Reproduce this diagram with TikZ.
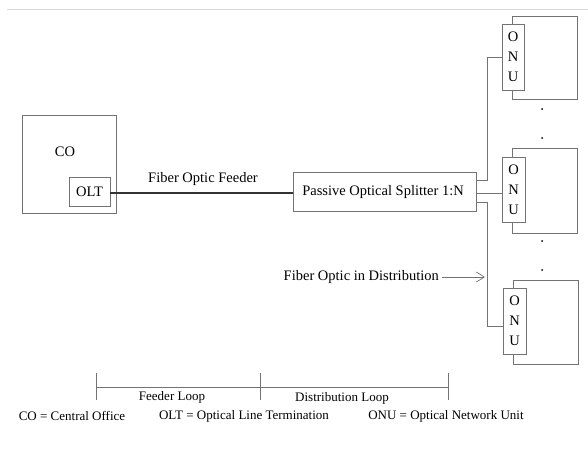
\documentclass[tikz,border=0pt]{standalone}
\usepackage{fontspec}
\setmainfont{Liberation Serif}
\usetikzlibrary{arrows.meta}
\definecolor{boxgray}{gray}{0.45}
\definecolor{toplinegray}{gray}{0.85}
\begin{document}
\begin{tikzpicture}[x=1pt,y=-1pt,
  box/.style={draw=boxgray, line width=0.8pt},
  wire/.style={draw=boxgray, line width=0.8pt},
  lbl/.style={font=\fontsize{14.5}{17}\selectfont, inner sep=0pt},
  small/.style={font=\fontsize{13}{15}\selectfont, inner sep=0pt},
  onuletter/.style={font=\fontsize{14.5}{17}\selectfont, inner sep=0pt}]
\useasboundingbox (0,0) rectangle (588,452);
\fill[white] (0,0) rectangle (588,452);
\draw[toplinegray, line width=0.6pt] (7,9) -- (588,9);
% CO
\draw[box] (22,115) rectangle (116,213);
\node[lbl] (co) at (65,152) {CO};
\draw[box, fill=white] (69,177) rectangle (110,206);
\node[lbl] (olt) at (89.5,192) {OLT};
\coordinate (oltE) at (110,193);
% Splitter
\draw[box] (293,172) rectangle (476,211);
\node[lbl] (split) at (383,192) {Passive Optical Splitter 1:N};
\coordinate (splitW) at (293,193);
\draw[black!80, line width=1.3pt] (oltE) -- (splitW);
\node[lbl] (feedlbl) at (203,179.5) {Fiber Optic Feeder};
% ONU 1
\draw[box] (512,16) rectangle (577,99);
\draw[box, fill=white] (502,24) rectangle (524,90);
\node[onuletter] (o1) at (513,37) {O};
\node[onuletter] (n1) at (513,57) {N};
\node[onuletter] (u1) at (513,77) {U};
% ONU 2
\draw[box] (512,148) rectangle (577,233);
\draw[box, fill=white] (502,157) rectangle (525,222);
\node[onuletter] (o2) at (513.5,170) {O};
\node[onuletter] (n2) at (513.5,190) {N};
\node[onuletter] (u2) at (513.5,210) {U};
% ONU 3
\draw[box] (513,280) rectangle (578,364);
\draw[box, fill=white] (503,288) rectangle (526,354);
\node[onuletter] (o3) at (514.5,301) {O};
\node[onuletter] (n3) at (514.5,321) {N};
\node[onuletter] (u3) at (514.5,341) {U};
% dots
\foreach \yy in {109,138,241,270} \fill[black] (542,\yy) circle (1pt);
% wires
\coordinate (s1) at (476,180);
\coordinate (t1) at (502,57);
\draw[wire] (s1) -- (487,180) |- (t1);
\coordinate (s2) at (476,193);
\coordinate (t2) at (502,193);
\draw[wire] (s2) -- (t2);
\coordinate (s3) at (476,202);
\coordinate (t3) at (503,326);
\draw[wire] (s3) -- (487,202) |- (t3);
% distribution arrow
\node[lbl, anchor=east] (distlbl) at (439,277) {Fiber Optic in Distribution};
\coordinate (arrtip) at (485,277);
\draw[boxgray, line width=0.7pt, -{Straight Barb[length=8pt,width=10pt]}] (distlbl.east) ++(3,0) -- (arrtip);
% loops
\coordinate (l1) at (96,387);
\coordinate (l2) at (260,387);
\coordinate (l3) at (448,387);
\draw[wire] (l1) -- (l3);
\foreach \xx in {96,260,448} \draw[wire] (\xx,373) -- (\xx,400);
\node[small] (feedloop) at (172,397.5) {Feeder Loop};
\node[small] (distloop) at (342,398.5) {Distribution Loop};
% legend
\node[small] (leg1) at (72,416) {CO = Central Office};
\node[small] (leg2) at (244,416) {OLT = Optical Line Termination};
\node[small] (leg3) at (446,416) {ONU = Optical Network Unit};
\end{tikzpicture}
\end{document}
